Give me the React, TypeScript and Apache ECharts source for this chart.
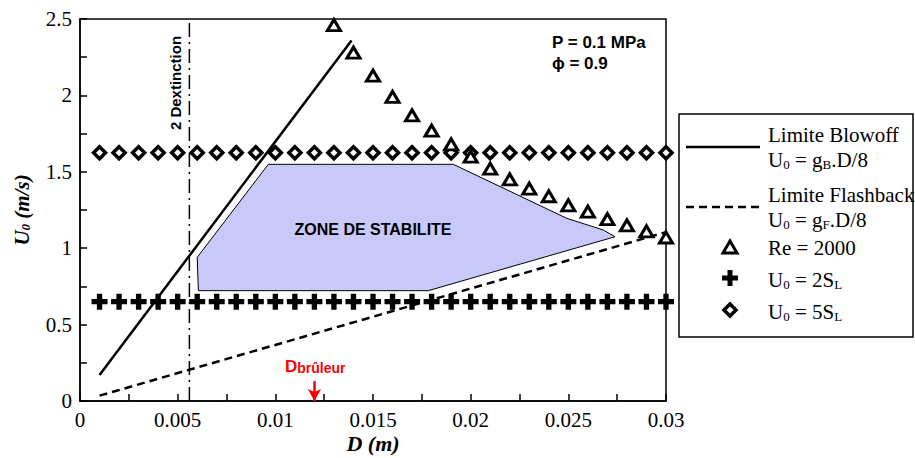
import React, { useEffect, useRef } from "react";
import * as echarts from "echarts";

// ---- data ----
const X_MIN = 0;
const X_MAX = 0.03;
const X_STEP = 0.005;
const Y_MIN = 0;
const Y_MAX = 2.5;
const Y_STEP = 0.5;

const BLOWOFF_D = [0.001, 0.0139];
const BLOWOFF_U = [0.17, 2.36];

const FLASH_D = [0.001, 0.03];
const FLASH_U = [0.035, 1.105];

const RE2000_D = [0.013, 0.014, 0.015, 0.016, 0.017, 0.018, 0.019, 0.02, 0.021, 0.022, 0.023, 0.024, 0.025, 0.026, 0.027, 0.028, 0.029, 0.03];
const RE2000_U = [2.46, 2.28, 2.13, 1.99, 1.87, 1.77, 1.68, 1.6, 1.52, 1.45, 1.39, 1.34, 1.28, 1.24, 1.19, 1.15, 1.11, 1.07];

const SL_D = [0.001, 0.002, 0.003, 0.004, 0.005, 0.006, 0.007, 0.008, 0.009, 0.01, 0.011, 0.012, 0.013, 0.014, 0.015, 0.016, 0.017, 0.018, 0.019, 0.02, 0.021, 0.022, 0.023, 0.024, 0.025, 0.026, 0.027, 0.028, 0.029, 0.03];
const U_2SL = 0.65;
const U_5SL = 1.625;

const ZONE_D = [0.00964, 0.01911, 0.02491, 0.02679, 0.02739, 0.01783, 0.00606, 0.006];
const ZONE_U = [1.549, 1.549, 1.196, 1.119, 1.075, 0.722, 0.722, 0.94];

const D_EXTINCTION = 0.0056;
const D_BRULEUR = 0.012;
const ARROW_U = [0.13, 0.0];

const SERIF = "'Liberation Serif', 'Times New Roman', serif";
const SANS = "'Liberation Sans', Arial, sans-serif";

const PLUS_PATH = "path://M5,0H10V5H15V10H10V15H5V10H0V5H5Z";

function fmt(v: number) {
  return String(parseFloat(v.toFixed(4)));
}

const legendRich = {
  n: { fontFamily: SERIF, fontSize: 21, color: "#000", lineHeight: 21, verticalAlign: "top" },
  s: { fontFamily: SERIF, fontSize: 13, color: "#000", lineHeight: 13, verticalAlign: "bottom", padding: [11, 0, 0, 0] },
};

export default function App() {
  const ref = useRef<HTMLDivElement>(null);
  useEffect(() => {
    if (!ref.current) return;
    const chart = echarts.init(ref.current, undefined, { renderer: "svg" });

    const option: any = {
      animation: false,
      backgroundColor: "#fff",
      grid: {
        left: 80,
        right: 249,
        top: 19,
        bottom: 57,
        show: true,
        borderColor: "#000",
        borderWidth: 1.5,
        backgroundColor: "transparent",
        containLabel: false,
        outerBoundsMode: "none",
      },
      xAxis: {
        type: "value",
        min: X_MIN,
        max: X_MAX,
        interval: X_STEP,
        name: "{a|D (m)}",
        nameLocation: "middle",
        nameGap: 31,
        nameMoveOverlap: false,
        nameTextStyle: {
          rich: { a: { fontFamily: SERIF, fontSize: 22, fontWeight: "bold", fontStyle: "italic", color: "#000", lineHeight: 22 } },
        },
        axisLine: { show: true, lineStyle: { color: "#000", width: 1.5 } },
        axisTick: { show: true, inside: true, length: 7, lineStyle: { color: "#000", width: 1.5 } },
        minorTick: { show: true, splitNumber: 2, length: 7, lineStyle: { color: "#000", width: 1.5 } },
        splitLine: { show: false },
        axisLabel: { formatter: (v: number) => fmt(v), fontFamily: SERIF, fontSize: 21, lineHeight: 21, color: "#000", margin: 8 },
      },
      yAxis: {
        type: "value",
        min: Y_MIN,
        max: Y_MAX,
        interval: Y_STEP,
        name: "{a|U}{s|0}{a| (m/s)}",
        nameLocation: "middle",
        nameRotate: 90,
        nameGap: 48,
        nameMoveOverlap: false,
        nameTextStyle: {
          rich: {
            a: { fontFamily: SERIF, fontSize: 21, fontWeight: "bold", fontStyle: "italic", color: "#000", lineHeight: 21, verticalAlign: "top" },
            s: { fontFamily: SERIF, fontSize: 13, fontWeight: "bold", fontStyle: "italic", color: "#000", lineHeight: 13, verticalAlign: "bottom", padding: [11, 0, 0, 0] },
          },
        },
        axisLine: { show: true, lineStyle: { color: "#000", width: 1.5 } },
        axisTick: { show: true, inside: true, length: 7, lineStyle: { color: "#000", width: 1.5 } },
        minorTick: { show: true, splitNumber: 2, length: 7, lineStyle: { color: "#000", width: 1.5 } },
        splitLine: { show: false },
        axisLabel: { formatter: (v: number) => fmt(v), fontFamily: SERIF, fontSize: 21, color: "#000", margin: 8 },
      },
      series: [
        {
          type: "custom",
          name: "zone",
          z: 1,
          silent: true,
          data: [[ZONE_D[0], ZONE_U[0]]],
          renderItem: (_p: any, api: any) => ({
            type: "polygon",
            shape: { points: ZONE_D.map((d, i) => api.coord([d, ZONE_U[i]])) },
            style: { fill: "#c9c9f9", stroke: "#000", lineWidth: 1 },
          }),
        },
        {
          type: "line",
          name: "extinction",
          z: 2,
          silent: true,
          showSymbol: false,
          data: [[D_EXTINCTION, Y_MIN], [D_EXTINCTION, Y_MAX]],
          lineStyle: { color: "#000", width: 1.5, type: [14, 5, 2, 5] },
          markLine: {
            silent: true,
            symbol: ["none", "arrow"],
            symbolSize: [10, 12],
            label: { show: false },
            lineStyle: { color: "#ff0000", width: 2.5, type: "solid" },
            data: [[{ coord: [D_BRULEUR, ARROW_U[0]] }, { coord: [D_BRULEUR, ARROW_U[1]] }]],
          },
        },
        {
          type: "line",
          name: "Limite Blowoff",
          z: 3,
          showSymbol: false,
          data: BLOWOFF_D.map((d, i) => [d, BLOWOFF_U[i]]),
          lineStyle: { color: "#000", width: 2.5 },
        },
        {
          type: "line",
          name: "Limite Flashback",
          z: 3,
          showSymbol: false,
          data: FLASH_D.map((d, i) => [d, FLASH_U[i]]),
          lineStyle: { color: "#000", width: 2.5, type: [8, 5] },
        },
        {
          type: "scatter",
          name: "U0 = 2SL",
          z: 4,
          symbol: PLUS_PATH,
          symbolSize: 16,
          itemStyle: { color: "#000", opacity: 1 },
          data: SL_D.map((d) => [d, U_2SL]),
        },
        {
          type: "scatter",
          name: "U0 = 5SL",
          z: 4,
          symbol: "diamond",
          symbolSize: 12,
          itemStyle: { color: "#fff", borderColor: "#000", borderWidth: 3.5, opacity: 1 },
          data: SL_D.map((d) => [d, U_5SL]),
        },
        {
          type: "scatter",
          name: "Re = 2000",
          z: 5,
          symbol: "triangle",
          symbolSize: [13, 11],
          itemStyle: { color: "#fff", borderColor: "#000", borderWidth: 3, opacity: 1 },
          data: RE2000_D.map((d, i) => [d, RE2000_U[i]]),
        },
      ],
      graphic: [
        // annotations
        { type: "text", x: 552, y: 42, style: { text: "P = 0.1 MPa", fontFamily: SANS, fontSize: 17, fontWeight: "bold", fill: "#000", verticalAlign: "middle" } },
        { type: "text", x: 552, y: 63, style: { text: "\u03d5 = 0.9", fontFamily: SANS, fontSize: 17, fontWeight: "bold", fill: "#000", verticalAlign: "middle" } },
        { type: "text", x: 373, y: 229, z: 10, style: { text: "ZONE DE STABILITE", fontFamily: SANS, fontSize: 16, fontWeight: "bold", fill: "#000", align: "center", verticalAlign: "middle" } },
        { type: "text", x: 175, y: 83, rotation: Math.PI / 2, style: { text: "2 Dextinction", fontFamily: SANS, fontSize: 15, fontWeight: "bold", fill: "#000", align: "center", verticalAlign: "middle" } },
        {
          type: "text",
          x: 285,
          y: 366,
          style: {
            text: "{d|D}{b|brûleur}",
            verticalAlign: "middle",
            rich: {
              d: { fontFamily: SANS, fontSize: 17, fontWeight: "bold", fill: "#ff0000", color: "#ff0000", lineHeight: 17, verticalAlign: "top" },
              b: { fontFamily: SANS, fontSize: 14, fontWeight: "bold", fill: "#ff0000", color: "#ff0000", lineHeight: 14, verticalAlign: "bottom", padding: [8, 0, 0, 0] },
            },
          },
        },
        // legend
        { type: "rect", shape: { x: 679, y: 114, width: 234, height: 223 }, style: { fill: "#fff", stroke: "#000", lineWidth: 1.5 } },
        { type: "line", shape: { x1: 686, y1: 147, x2: 760, y2: 147 }, style: { stroke: "#000", lineWidth: 2.5 } },
        { type: "text", x: 768, y: 135, style: { text: "Limite Blowoff", fontFamily: SERIF, fontSize: 21, fill: "#000", verticalAlign: "middle" } },
        { type: "text", x: 768, y: 160, style: { text: "{n|U}{s|0}{n| = g}{s|B}{n|.D/8}", verticalAlign: "middle", rich: legendRich } },
        { type: "line", shape: { x1: 686, y1: 207, x2: 760, y2: 207 }, style: { stroke: "#000", lineWidth: 2.5, lineDash: [8, 5] } },
        { type: "text", x: 768, y: 195, style: { text: "Limite Flashback", fontFamily: SERIF, fontSize: 21, fill: "#000", verticalAlign: "middle" } },
        { type: "text", x: 768, y: 220, style: { text: "{n|U}{s|0}{n| = g}{s|F}{n|.D/8}", verticalAlign: "middle", rich: legendRich } },
        { type: "polygon", shape: { points: [[730, 241], [723, 253], [737, 253]] }, style: { fill: "#fff", stroke: "#000", lineWidth: 3, lineJoin: "miter" } },
        { type: "text", x: 768, y: 248, style: { text: "Re = 2000", fontFamily: SERIF, fontSize: 21, fill: "#000", verticalAlign: "middle" } },
        { type: "polygon", shape: { points: [[727.5, 270], [732.5, 270], [732.5, 275.5], [738, 275.5], [738, 280.5], [732.5, 280.5], [732.5, 286], [727.5, 286], [727.5, 280.5], [722, 280.5], [722, 275.5], [727.5, 275.5]] }, style: { fill: "#000" } },
        { type: "text", x: 768, y: 280, style: { text: "{n|U}{s|0}{n| = 2S}{s|L}", verticalAlign: "middle", rich: legendRich } },
        { type: "polygon", shape: { points: [[730, 304], [736, 310], [730, 316], [724, 310]] }, style: { fill: "#fff", stroke: "#000", lineWidth: 3.5 } },
        { type: "text", x: 768, y: 312, style: { text: "{n|U}{s|0}{n| = 5S}{s|L}", verticalAlign: "middle", rich: legendRich } },
      ],
    };

    chart.setOption(option);
    return () => chart.dispose();
  }, []);

  return (
    <div
      ref={ref}
      style={{ position: "absolute", left: 0, top: 0, width: 915, height: 458, background: "#fff" }}
    />
  );
}
